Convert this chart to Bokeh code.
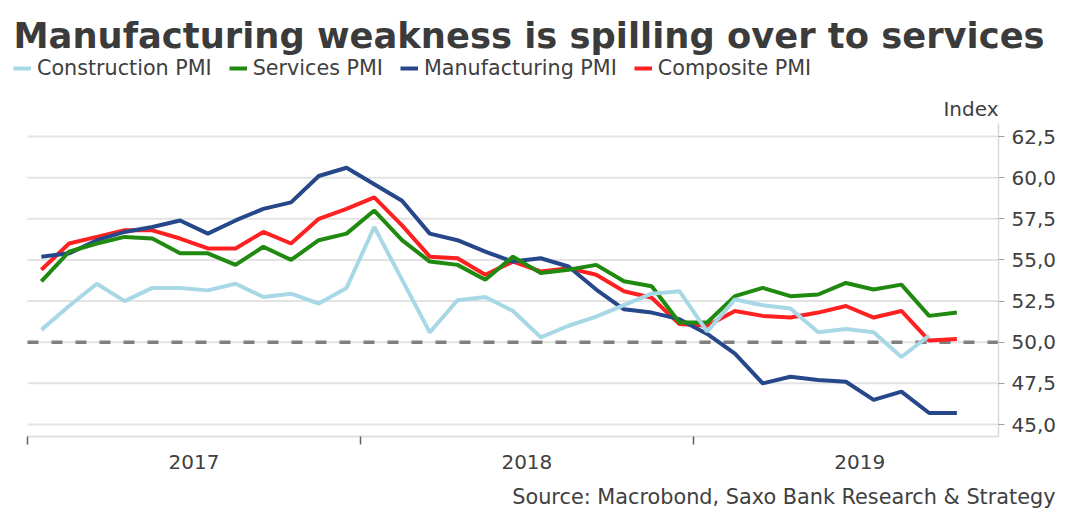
from bokeh.plotting import figure
from bokeh.models import FixedTicker, Legend, LegendItem, Label, Title
from bokeh.embed import file_html
from bokeh.resources import INLINE

# ---- data (monthly, Jan 2017 .. Oct 2019) ----
months = [f"{y}-{m:02d}" for y in (2017, 2018, 2019) for m in range(1, 13)][:34]
construction = [50.75, 52.2, 53.55, 52.5, 53.3, 53.3, 53.15, 53.55, 52.75, 52.95, 52.35, 53.3,
                57.0, 53.8, 50.6, 52.55, 52.75, 51.9, 50.3, 51.0, 51.55, 52.25, 52.95, 53.1,
                50.65, 52.6, 52.25, 52.05, 50.6, 50.8, 50.6, 49.1, 50.4]
services = [53.7, 55.5, 56.0, 56.4, 56.3, 55.4, 55.4, 54.7, 55.8, 55.0, 56.2, 56.6,
            58.0, 56.2, 54.9, 54.7, 53.8, 55.2, 54.2, 54.4, 54.7, 53.7, 53.4, 51.2,
            51.2, 52.8, 53.3, 52.8, 52.9, 53.6, 53.2, 53.5, 51.6, 51.8]
manufacturing = [55.2, 55.4, 56.2, 56.7, 57.0, 57.4, 56.6, 57.4, 58.1, 58.5, 60.1, 60.6,
                 59.6, 58.6, 56.6, 56.2, 55.5, 54.9, 55.1, 54.6, 53.2, 52.0, 51.8, 51.4,
                 50.5, 49.3, 47.5, 47.9, 47.7, 47.6, 46.5, 47.0, 45.7, 45.7]
composite = [54.4, 56.0, 56.4, 56.8, 56.8, 56.3, 55.7, 55.7, 56.7, 56.0, 57.5, 58.1,
             58.8, 57.1, 55.2, 55.1, 54.1, 54.9, 54.3, 54.5, 54.1, 53.1, 52.7, 51.1,
             51.0, 51.9, 51.6, 51.5, 51.8, 52.2, 51.5, 51.9, 50.1, 50.2]
year_labels = ["2017", "2018", "2019"]
year_starts = [0, 12, 24]
year_mids = [6, 18, 30]
y_ticks = [45.0, 47.5, 50.0, 52.5, 55.0, 57.5, 60.0, 62.5]
y_tick_labels = ["45,0", "47,5", "50,0", "52,5", "55,0", "57,5", "60,0", "62,5"]
threshold = 50.0
title_text = "Manufacturing weakness is spilling over to services"
source_text = "Source: Macrobond, Saxo Bank Research & Strategy"

# month positions: centre of each month, months counted from Jan 2017
x_all = [i + 0.5 for i in range(len(months))]

FONT = "DejaVu Sans"
TXT = "#404040"
LW = 4

# data area (axis extents) and full frame ranges (frame also hosts legend and "Index")
X_BOUNDS = (0, 35)
Y_BOUNDS = (44.271, 63.29)

p = figure(width=1068, height=522, output_backend="svg", toolbar_location=None,
           x_range=(-0.973, 35), y_range=(44.271, 67.422), y_axis_location="right",
           min_border_left=0, min_border_right=70, min_border_top=55, min_border_bottom=86)
p.outline_line_color = None
p.xgrid.grid_line_color = None
p.ygrid.grid_line_color = None

# horizontal gridlines across the data area
p.segment(x0=[X_BOUNDS[0]] * len(y_ticks), x1=[X_BOUNDS[1]] * len(y_ticks),
          y0=y_ticks, y1=y_ticks, line_color="#e3e3e3", line_width=2)

# 50 threshold (dashed)
p.line(list(X_BOUNDS), [threshold, threshold], line_color="#7f7f7f",
       line_width=3.5, line_dash="11 13")

# lines (drawn composite first, construction on top)
r_comp = p.line(x_all, composite, line_color="#ff2121", line_width=LW)
r_man = p.line(x_all, manufacturing, line_color="#26478a", line_width=LW)
r_serv = p.line(x_all, services, line_color="#1f8a0f", line_width=LW)
r_con = p.line(x_all[:len(construction)], construction, line_color="#a8d8e6", line_width=LW)

# y axis (right)
ya = p.yaxis[0]
ya.bounds = Y_BOUNDS
ya.ticker = FixedTicker(ticks=y_ticks)
ya.major_label_overrides = dict(zip(y_ticks, y_tick_labels))
ya.axis_line_color = "#d9d9d9"
ya.axis_line_width = 1.5
ya.major_tick_line_color = "#a0a0a0"
ya.major_tick_out = 6
ya.major_tick_in = 0
ya.minor_tick_line_color = None
ya.major_label_text_font = FONT
ya.major_label_text_font_size = "20px"
ya.major_label_text_color = TXT
ya.major_label_standoff = 7

# x axis: year boundaries as minor ticks, year labels at mid-year
xa = p.xaxis[0]
xa.bounds = X_BOUNDS
xa.ticker = FixedTicker(ticks=year_mids, minor_ticks=year_starts)
xa.major_label_overrides = dict(zip(year_mids, year_labels))
xa.axis_line_color = "#e0e0e0"
xa.axis_line_width = 2
xa.major_tick_line_color = None
xa.major_tick_out = 0
xa.major_tick_in = 0
xa.minor_tick_line_color = "#606060"
xa.minor_tick_line_width = 1.5
xa.minor_tick_out = 8
xa.minor_tick_in = 0
xa.major_label_text_font = FONT
xa.major_label_text_font_size = "20px"
xa.major_label_text_color = TXT
xa.major_label_standoff = 10

# main title in the panel above the frame
p.add_layout(Title(text=title_text, align="left", offset=13, text_font=FONT,
                   text_font_size="35.3px", text_font_style="bold", text_color="#3b3b3b",
                   standoff=0), "above")

# legend and "Index" inside the top of the frame (pixels from the frame's bottom-left)
p.add_layout(Label(x=998, y=328, x_units="screen", y_units="screen", text="Index",
                   text_font=FONT, text_font_size="20px", text_color=TXT,
                   text_baseline="middle", text_align="right"))

legend = Legend(items=[LegendItem(label="Construction PMI", renderers=[r_con]),
                       LegendItem(label="Services PMI", renderers=[r_serv]),
                       LegendItem(label="Manufacturing PMI", renderers=[r_man]),
                       LegendItem(label="Composite PMI", renderers=[r_comp])],
                orientation="horizontal", location=(13, 356),
                glyph_width=18, glyph_height=20, label_height=20,
                label_standoff=6, spacing=17, padding=0, margin=0,
                label_text_font=FONT, label_text_font_size="20.7px", label_text_color=TXT,
                border_line_color=None, background_fill_alpha=0)
p.add_layout(legend, "center")

# source note below the axis
p.add_layout(Title(text=source_text, align="right", offset=-57, text_font=FONT,
                   text_font_size="20.8px", text_font_style="normal", text_color=TXT,
                   standoff=22), "below")

open("out.html", "w").write(file_html(p, INLINE))
